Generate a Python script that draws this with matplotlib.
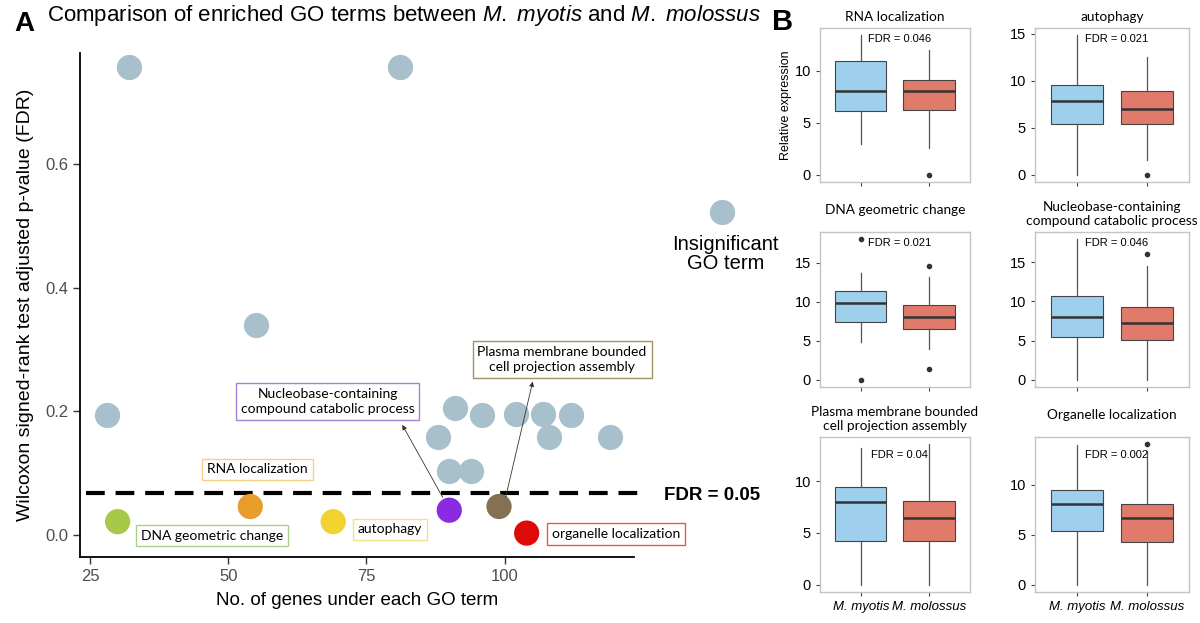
import matplotlib.pyplot as plt
from matplotlib.ticker import MultipleLocator

plt.rcParams['font.family'] = ['Liberation Sans', 'DejaVu Sans']
plt.rcParams['mathtext.fontset'] = 'custom'
plt.rcParams['mathtext.rm'] = 'Liberation Sans'
plt.rcParams['mathtext.it'] = 'Liberation Sans:italic'

# ---- panel A: GO terms ----
grey_genes = [32, 81, 28, 55, 91, 96, 102, 107, 112, 88, 108, 119, 90, 94]
grey_fdr = [0.757, 0.757, 0.194, 0.340, 0.205, 0.194, 0.195, 0.195, 0.194,
            0.159, 0.159, 0.159, 0.104, 0.104]

sig_terms = ['DNA geometric change', 'RNA localization', 'autophagy',
             'Nucleobase-containing\ncompound catabolic process',
             'Plasma membrane bounded\ncell projection assembly',
             'organelle localization']
sig_genes = [30, 54, 69, 90, 99, 104]
sig_fdr = [0.0215, 0.046, 0.0215, 0.040, 0.046, 0.003]
sig_colors = ['#a6c94a', '#e89c2c', '#f1d330', '#8a2be2', '#857052', '#dd0a0a']
box_edge = ['#a9cf8c', '#f3d08a', '#f5df8c', '#a283d3', '#a39062', '#e25b5b']
# label box centres (genes, FDR)
label_x = [47.1, 55.3, 79.3, 68.0, 110.4, 120.1]
label_y = [-0.001, 0.106, 0.009, 0.216, 0.284, 0.0016]

fdr_line = 0.0675
legend_pt = (139.3, 0.523)

# ---- panel B: expression boxplots ----
box_titles = ['RNA localization', 'autophagy', 'DNA geometric change',
              'Nucleobase-containing\ncompound catabolic process',
              'Plasma membrane bounded\ncell projection assembly',
              'Organelle localization']
box_fdr = ['0.046', '0.021', '0.021', '0.046', '0.04', '0.002']
species = ['M. myotis', 'M. molossus']

myotis_whislo = [3.0, 0, 4.8, 0, 0, 0]
myotis_q1 = [6.1, 5.45, 7.4, 5.5, 4.2, 5.35]
myotis_med = [8.1, 7.8, 9.8, 8.05, 7.95, 8.1]
myotis_q3 = [11.0, 9.55, 11.4, 10.65, 9.45, 9.5]
myotis_whishi = [13.45, 14.85, 13.65, 18.0, 13.15, 13.95]
myotis_fliers = [[], [], [0, 18.1], [], [], []]

molossus_whislo = [2.55, 1.6, 3.95, 0, 0, 0]
molossus_q1 = [6.2, 5.45, 6.55, 5.05, 4.25, 4.25]
molossus_med = [8.05, 7.0, 8.05, 7.2, 6.45, 6.7]
molossus_q3 = [9.15, 8.9, 9.55, 9.25, 8.05, 8.05]
molossus_whishi = [12.0, 12.5, 13.2, 14.55, 13.6, 13.4]
molossus_fliers = [[0], [0], [14.65, 1.4], [16.0], [], [14.1]]

fig = plt.figure(figsize=(12, 6.23), dpi=100)

# ---------------- panel A ----------------
ax = fig.add_axes([0.0667, 0.106, 0.462, 0.809])
ax.scatter(grey_genes, grey_fdr, s=330, color='#a7c0cb', linewidths=0, zorder=3)
ax.scatter(sig_genes, sig_fdr, s=330, c=sig_colors, linewidths=0, zorder=3)
ax.scatter([legend_pt[0]], [legend_pt[1]], s=330, color='#a7c0cb',
           linewidths=0, clip_on=False, zorder=3)
ax.text(140.0, 0.455, 'Insignificant\nGO term', ha='center', va='center',
        fontsize=14.5, linespacing=1.0)

ax.axhline(fdr_line, xmin=0.01, xmax=1.01, color='black', lw=3,
           linestyle=(0, (4.5, 2.6)), clip_on=False, zorder=2)
ax.text(128.8, fdr_line - 0.003, 'FDR = 0.05', ha='left', va='center',
        fontsize=13.5, fontweight='bold')

for lab, lx, ly, ec in zip(sig_terms, label_x, label_y, box_edge):
    ax.text(lx, ly, lab, ha='center', va='center', family='Lato', fontsize=10,
            linespacing=1.3, zorder=4,
            bbox=dict(boxstyle='square,pad=0.35', fc='white', ec=ec, lw=1))

ax.annotate('', xy=(81.5, 0.178), xytext=(88.8, 0.061),
            arrowprops=dict(arrowstyle='-|>', color='#333333', lw=0.6,
                            mutation_scale=7, shrinkA=0, shrinkB=0))
ax.annotate('', xy=(105.1, 0.248), xytext=(100.2, 0.061),
            arrowprops=dict(arrowstyle='-|>', color='#333333', lw=0.6,
                            mutation_scale=7, shrinkA=0, shrinkB=0))

ax.set_xlim(23.2, 123.5)
ax.set_ylim(-0.0356, 0.7795)
ax.set_xticks([25, 50, 75, 100])
ax.set_yticks([0.0, 0.2, 0.4, 0.6])
ax.set_yticklabels(['0.0', '0.2', '0.4', '0.6'])
for s in ['top', 'right']:
    ax.spines[s].set_visible(False)
for s in ['left', 'bottom']:
    ax.spines[s].set_linewidth(1.3)
ax.tick_params(labelsize=12, labelcolor='#4d4d4d', length=5, width=1, color='#333333')
ax.set_xlabel('No. of genes under each GO term', fontsize=13.5, labelpad=6)
ax.set_ylabel('Wilcoxon signed-rank test adjusted p-value (FDR)', fontsize=14, labelpad=8)

fig.text(0.012, 0.982, 'A', fontsize=20, fontweight='bold', va='top')
fig.text(0.039, 0.975, r'Comparison of enriched GO terms between $\it{M.\ myotis}$ and $\it{M.\ molossus}$',
         fontsize=16, va='center', ha='left')
fig.text(0.643, 0.987, 'B', fontsize=21, fontweight='bold', va='top')

# ---------------- panel B ----------------
positions = [
    [0.6833, 0.708, 0.125, 0.247],
    [0.8625, 0.708, 0.128, 0.247],
    [0.6833, 0.379, 0.125, 0.249],
    [0.8625, 0.379, 0.128, 0.249],
    [0.6833, 0.050, 0.125, 0.249],
    [0.8625, 0.050, 0.128, 0.249],
]
title_pads = [5, 5, 13, 5, 5, 13]

for i in range(6):
    bx = fig.add_axes(positions[i])
    stats = [
        dict(whislo=myotis_whislo[i], q1=myotis_q1[i], med=myotis_med[i],
             q3=myotis_q3[i], whishi=myotis_whishi[i], fliers=myotis_fliers[i]),
        dict(whislo=molossus_whislo[i], q1=molossus_q1[i], med=molossus_med[i],
             q3=molossus_q3[i], whishi=molossus_whishi[i], fliers=molossus_fliers[i]),
    ]
    bp = bx.bxp(stats, positions=[1, 2], widths=0.75, patch_artist=True,
                showcaps=False,
                boxprops=dict(edgecolor='#444444', linewidth=0.8),
                medianprops=dict(color='#333333', linewidth=1.8),
                whiskerprops=dict(color='#555555', linewidth=0.9),
                flierprops=dict(marker='o', markerfacecolor='#333333',
                                markeredgecolor='#333333', markersize=3))
    for patch, col in zip(bp['boxes'], ['#9ecfec', '#e07b6b']):
        patch.set_facecolor(col)

    vals = stats[0]['fliers'] + stats[1]['fliers'] + \
        [stats[0]['whislo'], stats[1]['whislo'], stats[0]['whishi'], stats[1]['whishi']]
    lo, hi = min(vals), max(vals)
    pad = 0.05 * (hi - lo)
    bx.set_ylim(lo - pad, hi + pad)
    bx.set_xlim(0.4, 2.6)
    bx.yaxis.set_major_locator(MultipleLocator(5))
    bx.tick_params(axis='y', labelsize=10.5)
    bx.tick_params(length=3, width=0.8, color='#444444')
    bx.set_xticks([1, 2])
    if i >= 4:
        bx.set_xticklabels(species, fontstyle='italic', fontsize=9.5)
    else:
        bx.set_xticklabels(['', ''])
    for s in bx.spines.values():
        s.set_color('#c4c4c4')
        s.set_linewidth(1)
    bx.set_title(box_titles[i], family='Lato', fontsize=9.8, pad=title_pads[i],
                 linespacing=1.2)
    ytxt = 0.93 if i < 4 else 0.88
    bx.text(0.53, ytxt, 'FDR = ' + box_fdr[i], transform=bx.transAxes,
            ha='center', va='center', fontsize=8)
    if i == 0:
        bx.set_ylabel('Relative expression', fontsize=9, labelpad=2)

fig.savefig('out.png', dpi=100)
